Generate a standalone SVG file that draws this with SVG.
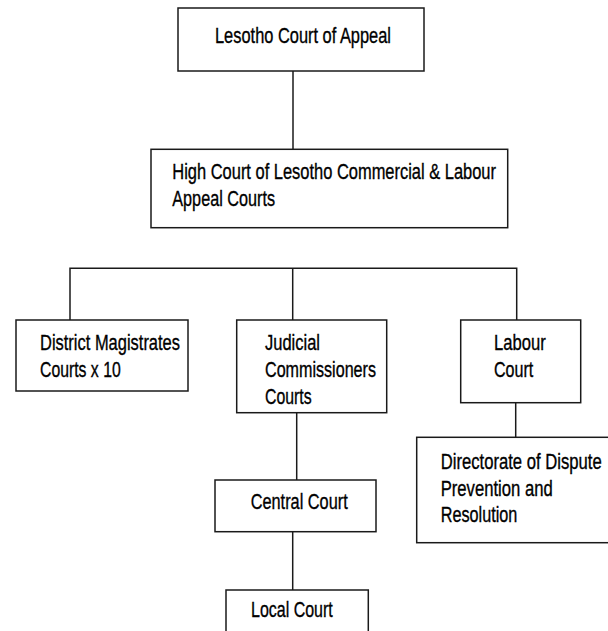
<svg xmlns="http://www.w3.org/2000/svg" width="608" height="631" viewBox="0 0 608 631">
<style>
.box{fill:#fff;stroke:#1a1a1a;stroke-width:1.5}
.ln{fill:none;stroke:#1a1a1a;stroke-width:1.5}
text{font-family:"Liberation Sans","DejaVu Sans",sans-serif;font-size:22px;fill:#000;stroke:#000;stroke-width:0.35}
</style>
<rect width="608" height="631" fill="#fff"/>
<g id="connectors">
<line class="ln" x1="293" y1="71" x2="293" y2="150"/>
<polyline class="ln" points="70,320 70,268.3 516.7,268.3 516.7,320"/>
<line class="ln" x1="292.7" y1="268.3" x2="292.7" y2="320"/>
<line class="ln" x1="296.7" y1="412.7" x2="296.7" y2="480"/>
<line class="ln" x1="292.7" y1="531.7" x2="292.7" y2="590"/>
<line class="ln" x1="515.7" y1="402.7" x2="515.7" y2="437.3"/>
</g>
<g id="court-of-appeal">
<rect class="box" x="178" y="8" width="246" height="63"/>
<text x="215" y="43" textLength="176" lengthAdjust="spacingAndGlyphs">Lesotho Court of Appeal</text>
</g>
<g id="high-court">
<rect class="box" x="151" y="149.3" width="356.7" height="78.4"/>
<text x="172.3" y="179" textLength="323.7" lengthAdjust="spacingAndGlyphs">High Court of Lesotho Commercial &amp; Labour</text>
<text x="172.3" y="205.7" textLength="102.7" lengthAdjust="spacingAndGlyphs">Appeal Courts</text>
</g>
<g id="district-magistrates">
<rect class="box" x="16" y="320" width="172" height="71"/>
<text x="40" y="350" textLength="140" lengthAdjust="spacingAndGlyphs">District Magistrates</text>
<text x="40" y="376.7" textLength="80.7" lengthAdjust="spacingAndGlyphs">Courts x 10</text>
</g>
<g id="judicial-commissioners">
<rect class="box" x="236.7" y="320" width="150" height="92.7"/>
<text x="265" y="350" textLength="55" lengthAdjust="spacingAndGlyphs">Judicial</text>
<text x="265" y="377.3" textLength="111" lengthAdjust="spacingAndGlyphs">Commissioners</text>
<text x="265" y="404" textLength="46.7" lengthAdjust="spacingAndGlyphs">Courts</text>
</g>
<g id="labour-court">
<rect class="box" x="460.7" y="320" width="120" height="82.7"/>
<text x="494" y="350" textLength="51.7" lengthAdjust="spacingAndGlyphs">Labour</text>
<text x="494" y="377" textLength="39.3" lengthAdjust="spacingAndGlyphs">Court</text>
</g>
<g id="central-court">
<rect class="box" x="215" y="480" width="161" height="51.7"/>
<text x="250.7" y="509" textLength="97" lengthAdjust="spacingAndGlyphs">Central Court</text>
</g>
<g id="directorate">
<rect class="box" x="416.7" y="437.3" width="193" height="105.4"/>
<text x="440.7" y="469.3" textLength="161" lengthAdjust="spacingAndGlyphs">Directorate of Dispute</text>
<text x="440.7" y="496" textLength="112" lengthAdjust="spacingAndGlyphs">Prevention and</text>
<text x="440.7" y="521.7" textLength="76.6" lengthAdjust="spacingAndGlyphs">Resolution</text>
</g>
<g id="local-court">
<rect class="box" x="226" y="590" width="142.3" height="60"/>
<text x="251" y="616.7" textLength="81.7" lengthAdjust="spacingAndGlyphs">Local Court</text>
</g>
</svg>
